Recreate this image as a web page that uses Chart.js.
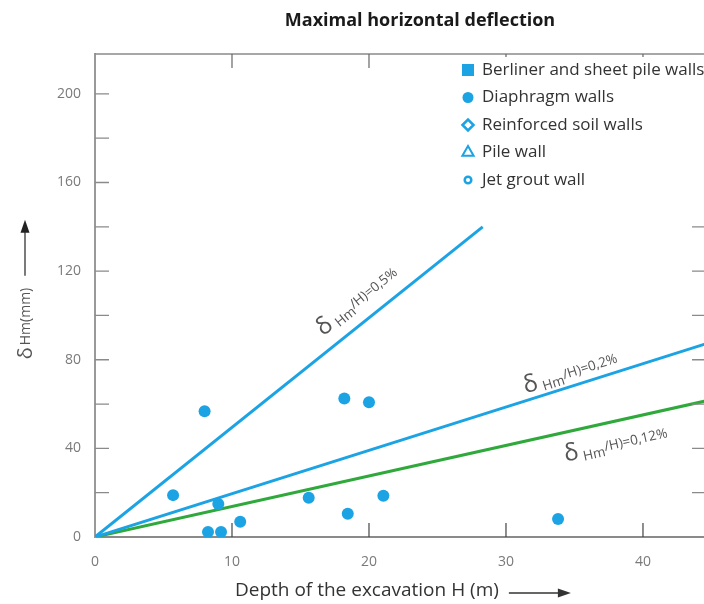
<!DOCTYPE html>
<html>
<head>
<meta charset="utf-8">
<script src="https://cdn.jsdelivr.net/npm/chart.js@4.4.1/dist/chart.umd.min.js"></script>
<style>
  html, body { margin: 0; padding: 0; background: #fff; overflow: hidden; }
  canvas { display: block; }
</style>
</head>
<body>
<canvas id="chart" width="712" height="604"></canvas>
<script>
// measured points (only diaphragm walls show up in the figure)
const depthH     = [8.0, 5.7, 9.0, 8.25, 9.2, 10.6, 15.6, 18.2, 20.0, 18.45, 21.05, 33.8];
const deflection = [56.8, 18.9, 14.9, 2.3, 2.3, 6.9, 17.7, 62.5, 60.8, 10.5, 18.6, 8.1];

const wallTypes = [
    'Berliner and sheet pile walls',
    'Diaphragm walls',
    'Reinforced soil walls',
    'Pile wall',
    'Jet grout wall'
];

// reference lines δHm/H, end points
const ratioLabels = ['0,5%', '0,2%', '0,12%'];
const ratioEndH   = [28.3, 45, 45];
const ratioEndD   = [140, 88, 62];

const xTicks = [0, 10, 20, 30, 40];
const yTicks = [0, 20, 40, 60, 80, 100, 120, 140, 160, 180, 200];
const yLabelTicks = [0, 40, 80, 120, 160, 200];

const BLUE = '#1ba3e4';
const GREEN = '#2fa83c';
const FONT = "'Open Sans', 'DejaVu Sans', sans-serif";

const markerStyles = [
    { pointStyle: 'rect', radius: 8.5, filled: true, borderWidth: 0 },
    { pointStyle: 'circle', radius: 5.5, filled: true, borderWidth: 0 },
    { pointStyle: 'rectRot', radius: 5.5, filled: false, borderWidth: 2.5 },
    { pointStyle: 'triangle', radius: 6.5, filled: false, borderWidth: 2 },
    { pointStyle: 'circle', radius: 3.3, filled: false, borderWidth: 2.5 }
];

const scatterSets = wallTypes.map((name, i) => ({
    label: name,
    data: i === 1 ? depthH.map((h, j) => ({ x: h, y: deflection[j] })) : [],
    pointStyle: markerStyles[i].pointStyle,
    pointRadius: 6,
    backgroundColor: markerStyles[i].filled ? BLUE : '#fff',
    borderColor: BLUE,
    borderWidth: 0,
    marker: markerStyles[i],
    order: 0
}));

const lineSets = ratioLabels.map((lbl, i) => ({
    label: lbl,
    data: [{ x: 0, y: 0 }, { x: ratioEndH[i], y: ratioEndD[i] }],
    showLine: true,
    borderColor: i === 2 ? GREEN : BLUE,
    borderWidth: 3,
    pointRadius: 0,
    isRatio: true,
    order: 1
}));

// where the rotated labels sit along each line (H value) and offset from it (px, + = above)
const labelPlace = [
    { h: 17.3, off: 14 },
    { h: 31.6, off: 7 },
    { h: 33.9, off: -29 }
];

function drawArrowRight(ctx, x0, x1, y) {
    ctx.beginPath();
    ctx.moveTo(x0, y);
    ctx.lineTo(x1 - 12, y);
    ctx.stroke();
    ctx.beginPath();
    ctx.moveTo(x1, y);
    ctx.lineTo(x1 - 13, y - 4.5);
    ctx.lineTo(x1 - 13, y + 4.5);
    ctx.closePath();
    ctx.fill();
}

const decorations = {
    id: 'decorations',
    afterDraw(chart) {
        const { ctx, chartArea: a, scales: { x, y } } = chart;
        ctx.save();

        // chart title (sits a bit right of the plot centre in the original)
        ctx.fillStyle = '#1a1a1a';
        ctx.font = 'bold 18px ' + FONT;
        ctx.textAlign = 'center';
        ctx.textBaseline = 'middle';
        ctx.fillText('Maximal horizontal deflection', 420, 21);

        // frame top/right
        ctx.strokeStyle = '#8a8a8a';
        ctx.lineWidth = 1.5;
        ctx.beginPath();
        ctx.moveTo(a.left, a.top);
        ctx.lineTo(a.right, a.top);
        ctx.lineTo(a.right, a.bottom);
        ctx.stroke();

        // inward tick marks
        ctx.lineWidth = 1.3;
        ctx.strokeStyle = '#8a8a8a';
        y.ticks.forEach(t => {
            if (t.value === 0) return;
            const py = y.getPixelForValue(t.value);
            ctx.beginPath();
            ctx.moveTo(a.left, py); ctx.lineTo(a.left + 14, py);
            ctx.moveTo(a.right, py); ctx.lineTo(a.right - 14, py);
            ctx.stroke();
        });
        x.ticks.forEach(t => {
            if (t.value === 0) return;
            const px = x.getPixelForValue(t.value);
            ctx.strokeStyle = '#444';
            ctx.lineWidth = 1.2;
            ctx.beginPath();
            ctx.moveTo(px, a.bottom); ctx.lineTo(px, a.bottom - 14);
            ctx.stroke();
            ctx.strokeStyle = '#666';
            ctx.beginPath();
            ctx.moveTo(px, a.top); ctx.lineTo(px, a.top + 14);
            ctx.stroke();
        });

        // legend inside the plot, top right
        const lx = 468, ly = 70, step = 27.5;
        ctx.fillStyle = '#fff';
        ctx.fillRect(455, a.top + 3, a.right - 456, 142);
        chart.data.datasets.filter(d => !d.isRatio).forEach((d, i) => {
            const m = d.marker;
            const cy = ly + i * step;
            ctx.fillStyle = m.filled ? BLUE : '#fff';
            ctx.strokeStyle = BLUE;
            ctx.lineWidth = m.borderWidth;
            Chart.helpers.drawPoint(ctx, {
                pointStyle: m.pointStyle, radius: m.radius, rotation: 0, borderWidth: m.borderWidth
            }, lx, cy);
            ctx.fillStyle = '#333';
            ctx.font = '17px ' + FONT;
            ctx.textAlign = 'left';
            ctx.textBaseline = 'middle';
            ctx.fillText(d.label, 482, cy);
        });

        // rotated ratio labels
        chart.data.datasets.filter(d => d.isRatio).forEach((d, i) => {
            const p0 = { x: x.getPixelForValue(0), y: y.getPixelForValue(0) };
            const end = d.data[1];
            const p1 = { x: x.getPixelForValue(end.x), y: y.getPixelForValue(end.y) };
            const ang = Math.atan2(p1.y - p0.y, p1.x - p0.x);
            const h = labelPlace[i].h;
            const ax = x.getPixelForValue(h);
            const ay = y.getPixelForValue(h * end.y / end.x);
            ctx.save();
            ctx.translate(ax, ay);
            ctx.rotate(ang);
            ctx.translate(0, -labelPlace[i].off);
            ctx.fillStyle = '#555';
            ctx.textAlign = 'left';
            ctx.textBaseline = 'alphabetic';
            ctx.font = '24px ' + FONT;
            ctx.fillText('δ', 0, 0);
            let cx = ctx.measureText('δ').width + 4;
            ctx.font = '13.5px ' + FONT;
            ctx.fillText('Hm', cx, 3);
            cx += ctx.measureText('Hm').width;
            ctx.fillText('/H)=' + ratioLabels[i], cx, -2);
            ctx.restore();
        });

        // x axis title with arrow
        ctx.fillStyle = '#333';
        ctx.strokeStyle = '#333';
        ctx.lineWidth = 1.3;
        ctx.font = '19px ' + FONT;
        ctx.textAlign = 'left';
        ctx.textBaseline = 'middle';
        const xt = 'Depth of the excavation H (m)';
        const tw = ctx.measureText(xt).width;
        ctx.fillText(xt, 235, 591);
        drawArrowRight(ctx, 235 + tw + 10, 235 + tw + 72, 593);

        // y axis title with arrow
        ctx.save();
        ctx.translate(25, (a.top + a.bottom) / 2 - 6);
        ctx.rotate(-Math.PI / 2);
        ctx.fillStyle = '#555';
        ctx.strokeStyle = '#333';
        ctx.font = '20px ' + FONT;
        const dw = ctx.measureText('δ').width;
        ctx.font = '14px ' + FONT;
        const hw = ctx.measureText('Hm(mm)').width;
        const ytot = dw + 2 + hw + 12 + 56;
        let yx = -ytot / 2;
        ctx.font = '20px ' + FONT;
        ctx.fillText('δ', yx, 1);
        yx += dw + 2;
        ctx.font = '14px ' + FONT;
        ctx.fillText('Hm(mm)', yx, 1);
        yx += hw + 12;
        ctx.fillStyle = '#222';
        drawArrowRight(ctx, yx, yx + 56, 0);
        ctx.restore();

        ctx.restore();
    }
};

new Chart(document.getElementById('chart'), {
    type: 'scatter',
    data: { datasets: [...scatterSets, ...lineSets] },
    options: {
        responsive: false,
        animation: false,
        devicePixelRatio: 1,
        layout: { padding: { left: 0, right: 1, top: 54, bottom: 0 } },
        plugins: {
            legend: { display: false },
            tooltip: { enabled: false },
            title: { display: false }
        },
        scales: {
            x: {
                type: 'linear',
                min: 0,
                max: 44.6,
                afterBuildTicks: s => { s.ticks = xTicks.map(v => ({ value: v })); },
                afterFit: s => { s.height = 67; },
                grid: { display: false, drawTicks: false },
                border: { color: '#8a8a8a', width: 2 },
                ticks: {
                    color: '#7a7a7a',
                    font: { family: FONT, size: 14 },
                    padding: 17,
                    maxRotation: 0
                }
            },
            y: {
                type: 'linear',
                min: 0,
                max: 218,
                afterBuildTicks: s => { s.ticks = yTicks.map(v => ({ value: v })); },
                afterFit: s => { s.width = 95; },
                grid: { display: false, drawTicks: false },
                border: { color: '#999', width: 2 },
                ticks: {
                    color: '#7a7a7a',
                    font: { family: FONT, size: 14 },
                    padding: 14,
                    callback: v => yLabelTicks.includes(v) ? String(v) : ''
                }
            }
        }
    },
    plugins: [decorations]
});
</script>
</body>
</html>
